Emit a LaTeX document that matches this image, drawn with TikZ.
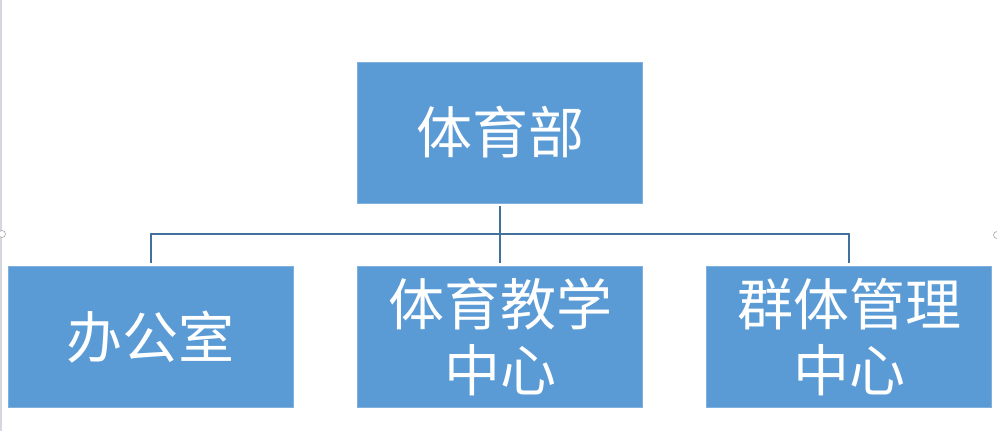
\documentclass[tikz,border=0pt]{standalone}
\usepackage{fontspec}
\newfontfamily\cjk{Noto Sans CJK SC}
\definecolor{boxblue}{HTML}{5B9BD5}
\definecolor{boxedge}{HTML}{7FB0DE}
\definecolor{linkblue}{HTML}{41719C}
\definecolor{handlegrey}{HTML}{A6A6A6}
\definecolor{edgegrey}{HTML}{D4D6E0}
\begin{document}
\begin{tikzpicture}[x=1pt,y=-1pt,
  orgbox/.style={rectangle, fill=boxblue, draw=boxedge, line width=0.8pt,
    minimum width=285pt, minimum height=141pt, inner sep=0pt,
    text=white, align=center, font=\cjk\fontsize{56}{66}\selectfont},
  conn/.style={draw=linkblue, line width=2pt},
  handle/.style={circle, draw=handlegrey, fill=white, line width=0.6pt, minimum size=7pt, inner sep=0pt}]
\useasboundingbox (0,0) rectangle (997,431);
\fill[white] (0,0) rectangle (997,431);
\draw[edgegrey, line width=1.5pt] (1,0) -- (1,431);
\node[orgbox] (top) at (500,132.5) {体育部};
\node[orgbox] (l) at (150.5,337) {办公室};
\node[orgbox] (m) at (500,337) {体育教学\\中心};
\node[orgbox] (r) at (849,337) {群体管理\\中心};
\coordinate (bus) at (500,234);
\draw[conn, shorten <=3pt, shorten >=3pt] (top.south) -- (m.north);
\draw[conn, shorten <=3pt, shorten >=3pt] (l.north) -- (l.north |- bus) -- (r.north |- bus) -- (r.north);
\node[handle] (hl) at (2,234) {};
\node[handle] (hr) at (997,235) {};
\end{tikzpicture}
\end{document}
